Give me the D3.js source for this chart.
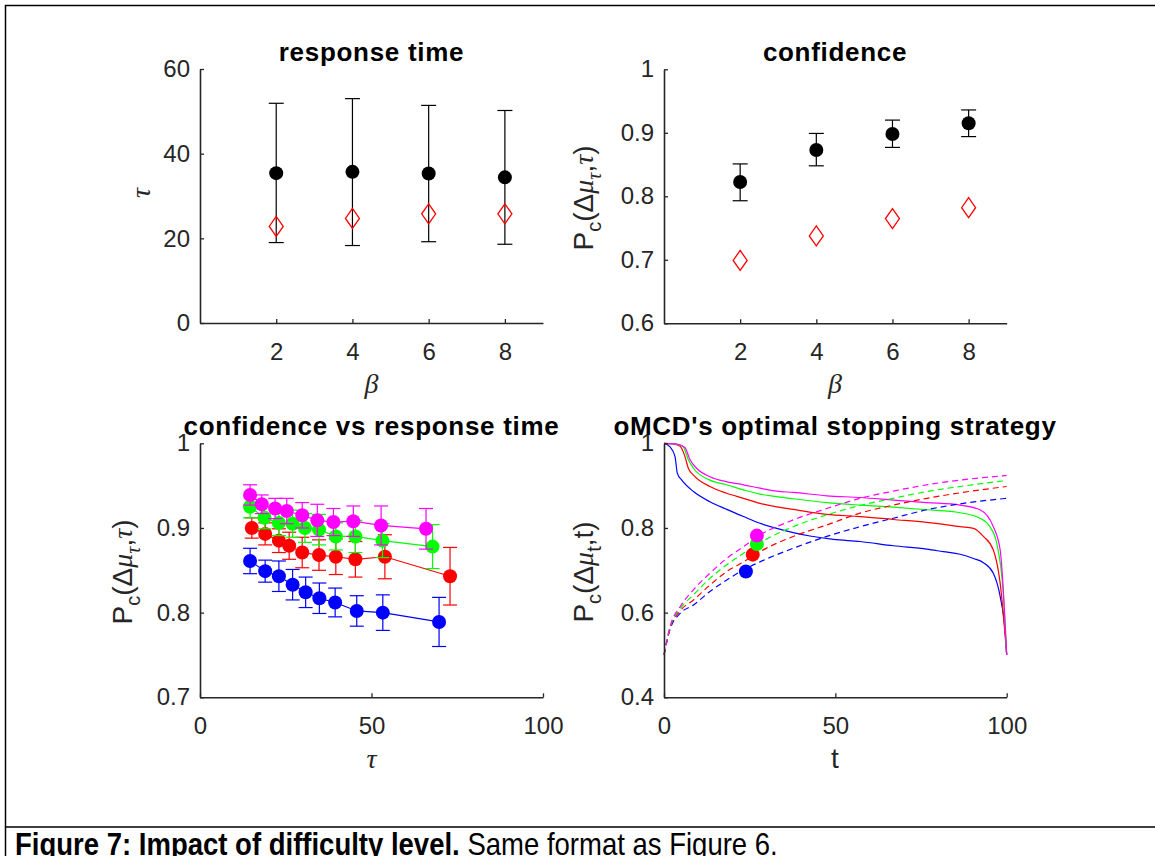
<!DOCTYPE html>
<html>
<head>
<meta charset="utf-8">
<script src="https://cdn.jsdelivr.net/npm/d3@7"></script>
<style>
  html, body { margin: 0; padding: 0; background: #fff; }
  svg { display: block; }
</style>
</head>
<body>
<svg id="fig" width="1155" height="856"></svg>
<script>
// ---- data: response time and confidence per beta ----
const beta = [2, 4, 6, 8];
const rtMean = [35.4, 35.7, 35.3, 34.4];
const rtLow = [19.0, 18.3, 19.2, 18.6];
const rtHigh = [51.9, 53.0, 51.4, 50.2];
const rtModel = [22.8, 24.7, 25.8, 25.8];

const confMean = [0.8225, 0.873, 0.898, 0.915];
const confLow = [0.793, 0.848, 0.877, 0.894];
const confHigh = [0.851, 0.899, 0.920, 0.936];
const confModel = [0.699, 0.7375, 0.765, 0.782];

// ---- confidence vs response time, one series per beta ----
const tauBlue = [14.6, 19.0, 23.0, 27.0, 30.8, 34.8, 39.4, 45.7, 53.3, 69.7];
const confBlue = [0.861, 0.849, 0.843, 0.833, 0.824, 0.817, 0.812, 0.802, 0.800, 0.789];
const errBlue = [0.015, 0.013, 0.018, 0.018, 0.018, 0.018, 0.017, 0.018, 0.021, 0.029];

const tauRed = [15.1, 19.0, 23.0, 26.0, 29.8, 34.7, 39.6, 45.3, 53.9, 72.9];
const confRed = [0.900, 0.893, 0.885, 0.879, 0.871, 0.868, 0.866, 0.863, 0.866, 0.843];
const errRed = [0.012, 0.013, 0.014, 0.016, 0.018, 0.018, 0.021, 0.021, 0.026, 0.034];

const tauGreen = [14.6, 18.8, 23.0, 27.0, 30.6, 34.7, 39.6, 45.3, 53.2, 67.8];
const confGreen = [0.925, 0.912, 0.906, 0.905, 0.900, 0.898, 0.890, 0.890, 0.885, 0.878];
const errGreen = [0.013, 0.013, 0.015, 0.016, 0.017, 0.018, 0.016, 0.019, 0.020, 0.026];

const tauMagenta = [14.6, 18.0, 21.9, 25.3, 29.8, 34.2, 38.9, 44.7, 52.8, 65.9];
const confMagenta = [0.939, 0.928, 0.923, 0.920, 0.915, 0.909, 0.907, 0.908, 0.903, 0.899];
const errMagenta = [0.012, 0.011, 0.012, 0.015, 0.015, 0.019, 0.016, 0.018, 0.023, 0.024];

// ---- optimal stopping: confidence boundary (solid) per beta, [t, Pc] ----
const boundBlue = [[0,1],[1.7,0.992],[3.2,0.969],[3.9,0.929],[5.2,0.913],[8.6,0.886],[13.4,0.862],[18.3,0.844],[23.2,0.827],[28.0,0.811],[32.9,0.799],[37.7,0.789],[42.6,0.781],[49.4,0.773],[57.2,0.768],[66.9,0.758],[76.7,0.750],[81.5,0.744],[86.4,0.738],[90.3,0.728],[93.2,0.718],[96.1,0.693],[98.1,0.638],[99.5,0.559],[100,0.5]];
const boundRed = [[0,1],[3.0,0.998],[4.7,0.993],[6.1,0.969],[7.1,0.941],[8.6,0.925],[13.4,0.898],[18.3,0.882],[23.2,0.870],[28.0,0.858],[32.9,0.850],[37.7,0.844],[47.5,0.832],[57.2,0.827],[66.9,0.820],[76.7,0.813],[86.4,0.803],[90.3,0.799],[93.2,0.780],[96.1,0.748],[98.1,0.669],[100,0.5]];
const boundGreen = [[0,1],[3.5,0.998],[5.6,0.992],[7.1,0.961],[8.6,0.941],[13.4,0.913],[18.3,0.902],[23.2,0.890],[28.0,0.880],[32.9,0.874],[37.7,0.869],[47.5,0.860],[57.2,0.854],[66.9,0.849],[76.7,0.843],[86.4,0.836],[92.2,0.823],[95.1,0.803],[97.1,0.764],[99.0,0.646],[100,0.5]];
const boundMagenta = [[0,1],[3.8,0.998],[6.1,0.990],[7.6,0.961],[9.5,0.941],[13.4,0.921],[18.3,0.909],[23.2,0.902],[28.0,0.894],[32.9,0.887],[37.7,0.884],[47.5,0.876],[57.2,0.872],[66.9,0.866],[76.7,0.860],[86.4,0.854],[92.2,0.843],[96.1,0.803],[98.1,0.748],[100,0.5]];

// ---- expected confidence (dashed) per beta, [t, Pc] ----
const expBlue = [[0,0.5],[1.75,0.560],[4.7,0.598],[8.6,0.618],[13.4,0.650],[18.3,0.677],[23.2,0.701],[28.0,0.720],[37.7,0.752],[47.5,0.780],[57.2,0.803],[66.9,0.823],[76.7,0.843],[86.4,0.857],[100,0.870]];
const expRed = [[0,0.5],[1.75,0.563],[4.7,0.604],[8.6,0.630],[13.4,0.665],[18.3,0.697],[23.2,0.720],[28.0,0.744],[37.7,0.780],[47.5,0.807],[57.2,0.835],[66.9,0.854],[76.7,0.870],[86.4,0.883],[100,0.898]];
const expGreen = [[0,0.5],[1.75,0.565],[4.7,0.609],[8.6,0.642],[13.4,0.681],[18.3,0.713],[23.2,0.740],[28.0,0.765],[37.7,0.803],[47.5,0.831],[57.2,0.853],[66.9,0.870],[76.7,0.886],[86.4,0.898],[100,0.912]];
const expMagenta = [[0,0.5],[1.75,0.567],[4.7,0.614],[8.6,0.654],[13.4,0.693],[18.3,0.728],[23.2,0.756],[28.0,0.783],[37.7,0.819],[47.5,0.846],[57.2,0.870],[66.9,0.887],[76.7,0.902],[86.4,0.913],[100,0.924]];

// predicted stopping point per beta
const stopT = [23.9, 25.9, 27.1, 27.1];
const stopPc = [0.697, 0.737, 0.762, 0.782];

// ---- tick labels ----
const betaTicks = [2, 4, 6, 8];
const rtTicks = [0, 20, 40, 60];
const confTicks = [0.6, 0.7, 0.8, 0.9, 1];
const tauTicks = [0, 50, 100];
const confTauTicks = [0.7, 0.8, 0.9, 1];
const tTicks = [0, 50, 100];
const pcTicks = [0.4, 0.6, 0.8, 1];

const seriesColors = ["#0000ff", "#ff0000", "#00ff00", "#ff00ff"];

const svg = d3.select("#fig");
const AX = "#262626";
const SANS = "'Liberation Sans', Arial, Helvetica, sans-serif";
const SERIF = "'Liberation Serif', 'Times New Roman', serif";

svg.append("rect").attr("width", 1155).attr("height", 856).attr("fill", "#fff");

// page frame and caption rule
svg.append("path")
  .attr("d", "M5.5,856 V5.5 H1155 M5.5,827 H1155")
  .attr("fill", "none").attr("stroke", "#000").attr("stroke-width", 1.5);

function fmt(v) { return String(+v.toFixed(2)); }

function makeAxes(g, x, y, xt, yt) {
  const [x0, x1] = x.range();
  const [y0, y1] = y.range();
  const xa = g.append("g").attr("transform", `translate(0,${y0})`)
    .call(d3.axisBottom(x).tickValues(xt).tickFormat(fmt).tickSizeInner(-4).tickSizeOuter(0).tickPadding(20));
  const ya = g.append("g").attr("transform", `translate(${x0},0)`)
    .call(d3.axisLeft(y).tickValues(yt).tickFormat(fmt).tickSizeInner(-4).tickSizeOuter(0).tickPadding(10));
  [xa, ya].forEach(a => {
    a.select(".domain").attr("stroke", AX).attr("stroke-width", 1.6);
    a.selectAll(".tick line").attr("stroke", AX).attr("stroke-width", 1.3);
    a.selectAll(".tick text").attr("fill", AX).style("font-family", SANS).style("font-size", "24px");
  });
}

function title(g, x, cx, y, txt) {
  g.append("text").attr("x", cx).attr("y", y).attr("text-anchor", "middle")
    .style("font-family", SANS).style("font-weight", "bold").style("font-size", "26px")
    .attr("letter-spacing", "0.7px").attr("fill", "#000").text(txt);
}

// rich label built from parts: {t, it (italic serif), sub}
function richLabel(g, x, y, rot, parts, size) {
  const t = g.append("text").attr("text-anchor", "middle")
    .attr("transform", `translate(${x},${y}) rotate(${rot})`)
    .attr("fill", AX).style("font-size", size + "px").style("font-family", SANS);
  let shifted = 0;
  parts.forEach(p => {
    const s = t.append("tspan").text(p.t);
    if (p.it) s.style("font-family", SERIF).style("font-style", "italic");
    const target = p.sub ? 8 : 0;
    if (target !== shifted) { s.attr("dy", target - shifted); shifted = target; }
    if (p.sub) s.style("font-size", Math.round(size * 0.72) + "px");
  });
}

function errorBars(g, x, y, xs, lo, hi, color, cap) {
  const seg = g.append("g").attr("stroke", color).attr("stroke-width", 1.2).attr("fill", "none");
  xs.forEach((xv, i) => {
    const px = x(xv), a = y(lo[i]), b = y(hi[i]);
    seg.append("line").attr("x1", px).attr("x2", px).attr("y1", a).attr("y2", b);
    seg.append("line").attr("x1", px - cap).attr("x2", px + cap).attr("y1", a).attr("y2", a);
    seg.append("line").attr("x1", px - cap).attr("x2", px + cap).attr("y1", b).attr("y2", b);
  });
}

function diamonds(g, x, y, xs, ys) {
  g.append("g").selectAll("path").data(xs).join("path")
    .attr("d", (d, i) => {
      const cx = x(d), cy = y(ys[i]);
      return `M${cx},${cy - 10}L${cx + 7},${cy}L${cx},${cy + 10}L${cx - 7},${cy}Z`;
    })
    .attr("fill", "none").attr("stroke", "#ff0000").attr("stroke-width", 1.3);
}

const pcTauParts = [
  { t: "P" }, { t: "c", sub: true }, { t: "(Δ" }, { t: "μ", it: true },
  { t: "τ", it: true, sub: true }, { t: "," }, { t: "τ", it: true }, { t: ")" }
];

// ---------- panel 1: response time ----------
{
  const g = svg.append("g");
  const x = d3.scaleLinear().domain([0, 9]).range([200, 543]);
  const y = d3.scaleLinear().domain([0, 60]).range([323, 69]);
  errorBars(g, x, y, beta, rtLow, rtHigh, "#000", 7.5);
  g.append("g").selectAll("circle").data(beta).join("circle")
    .attr("cx", d => x(d)).attr("cy", (d, i) => y(rtMean[i])).attr("r", 7).attr("fill", "#000");
  diamonds(g, x, y, beta, rtModel);
  makeAxes(g, x, y, betaTicks, rtTicks);
  title(g, x, 371.5, 61, "response time");
  richLabel(g, 150, 193, -90, [{ t: "τ", it: true }], 28);
  richLabel(g, 371.5, 393, 0, [{ t: "β", it: true }], 28);
}

// ---------- panel 2: confidence ----------
{
  const g = svg.append("g");
  const x = d3.scaleLinear().domain([0, 9]).range([664, 1006.7]);
  const y = d3.scaleLinear().domain([0.6, 1]).range([323.3, 69.3]);
  errorBars(g, x, y, beta, confLow, confHigh, "#000", 7.5);
  g.append("g").selectAll("circle").data(beta).join("circle")
    .attr("cx", d => x(d)).attr("cy", (d, i) => y(confMean[i])).attr("r", 7).attr("fill", "#000");
  diamonds(g, x, y, beta, confModel);
  makeAxes(g, x, y, betaTicks, confTicks);
  title(g, x, 835, 61, "confidence");
  richLabel(g, 593, 198, -90, pcTauParts, 28);
  richLabel(g, 835, 393, 0, [{ t: "β", it: true }], 28);
}

// ---------- panel 3: confidence vs response time ----------
{
  const g = svg.append("g");
  const x = d3.scaleLinear().domain([0, 100]).range([200, 543]);
  const y = d3.scaleLinear().domain([0.7, 1]).range([697.3, 443.3]);
  const series = [
    [tauBlue, confBlue, errBlue],
    [tauRed, confRed, errRed],
    [tauGreen, confGreen, errGreen],
    [tauMagenta, confMagenta, errMagenta]
  ];
  const line = d3.line().x(d => x(d[0])).y(d => y(d[1]));
  series.forEach(([ts, cs, es], k) => {
    const col = seriesColors[k];
    const pts = ts.map((t, i) => [t, cs[i]]);
    g.append("path").attr("d", line(pts)).attr("fill", "none").attr("stroke", col).attr("stroke-width", 1.2);
    errorBars(g, x, y, ts, cs.map((c, i) => c - es[i]), cs.map((c, i) => c + es[i]), col, 7);
    g.append("g").selectAll("circle").data(pts).join("circle")
      .attr("cx", d => x(d[0])).attr("cy", d => y(d[1])).attr("r", 7).attr("fill", col);
  });
  makeAxes(g, x, y, tauTicks, confTauTicks);
  title(g, x, 371.5, 435, "confidence vs response time");
  richLabel(g, 132, 572, -90, pcTauParts, 28);
  richLabel(g, 371.5, 768, 0, [{ t: "τ", it: true }], 28);
}

// ---------- panel 4: optimal stopping strategy ----------
{
  const g = svg.append("g");
  const x = d3.scaleLinear().domain([0, 100]).range([664, 1006.7]);
  const y = d3.scaleLinear().domain([0.4, 1]).range([697.3, 443.3]);
  const line = d3.line().x(d => x(d[0])).y(d => y(d[1])).curve(d3.curveMonotoneX);
  const bounds = [boundBlue, boundRed, boundGreen, boundMagenta];
  const exps = [expBlue, expRed, expGreen, expMagenta];
  bounds.forEach((b, k) => {
    g.append("path").attr("d", line(b)).attr("fill", "none")
      .attr("stroke", seriesColors[k]).attr("stroke-width", 1.2);
  });
  exps.forEach((e, k) => {
    g.append("path").attr("d", line(e)).attr("fill", "none")
      .attr("stroke", seriesColors[k]).attr("stroke-width", 1.2).attr("stroke-dasharray", "6,4");
  });
  g.append("g").selectAll("circle").data(stopT).join("circle")
    .attr("cx", d => x(d)).attr("cy", (d, i) => y(stopPc[i])).attr("r", 7)
    .attr("fill", (d, i) => seriesColors[i]);
  makeAxes(g, x, y, tTicks, pcTicks);
  title(g, x, 835, 435, "oMCD's optimal stopping strategy");
  richLabel(g, 593, 572, -90, [
    { t: "P" }, { t: "c", sub: true }, { t: "(Δ" }, { t: "μ", it: true },
    { t: "t", sub: true }, { t: ",t)" }
  ], 28);
  richLabel(g, 835, 768, 0, [{ t: "t" }], 28);
}

// ---------- caption ----------
{
  const cap = svg.append("text")
    .attr("transform", "translate(15,855) scale(0.86,1)")
    .style("font-family", SANS).style("font-size", "32px").attr("fill", "#000");
  cap.append("tspan").style("font-weight", "bold").text("Figure 7: Impact of difficulty level.");
  cap.append("tspan").text(" Same format as Figure 6.");
}
</script>
</body>
</html>
